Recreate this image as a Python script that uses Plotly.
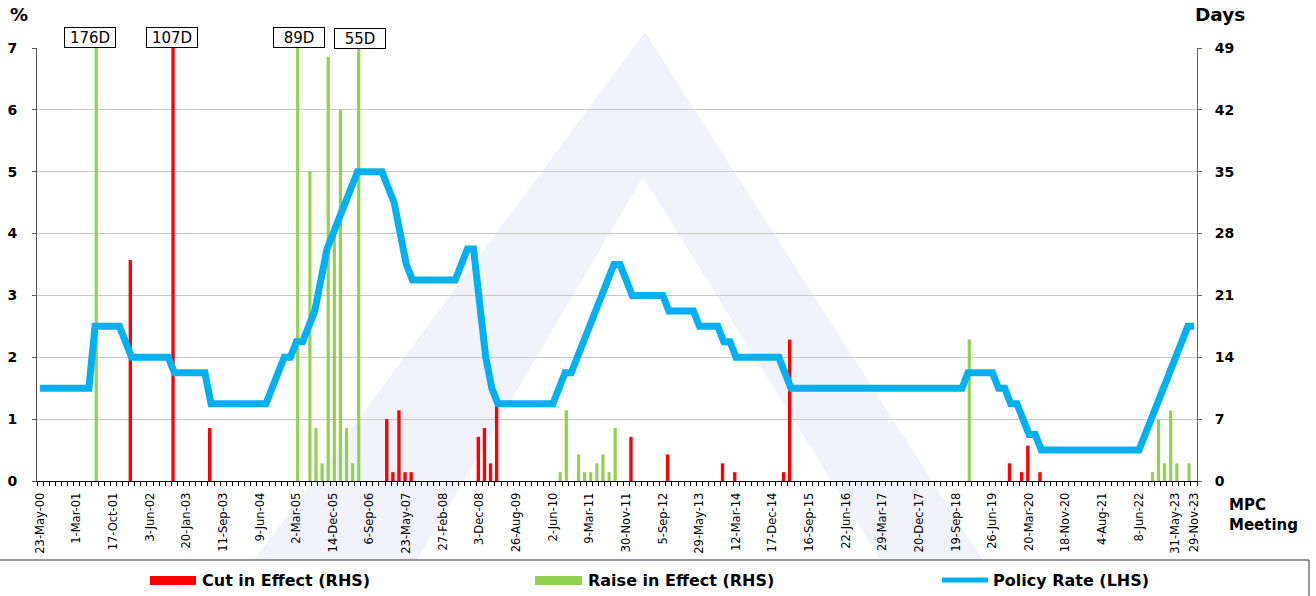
import plotly.graph_objects as go

# ---------------- data ----------------
meeting_idx = list(range(190))   # MPC meetings, 23-May-00 ... 29-Nov-23

policy_rate = [
    1.5, 1.5, 1.5, 1.5, 1.5, 1.5, 1.5, 1.5, 1.5,            # 0-8
    2.5, 2.5, 2.5, 2.5, 2.5,                                # 9-13
    2.25,                                                   # 14
    2.0, 2.0, 2.0, 2.0, 2.0, 2.0, 2.0,                      # 15-21
    1.75, 1.75, 1.75, 1.75, 1.75, 1.75,                     # 22-27
    1.25, 1.25, 1.25, 1.25, 1.25, 1.25, 1.25, 1.25, 1.25, 1.25,  # 28-37
    1.5, 1.75, 2.0, 2.0, 2.25, 2.25,                        # 38-43
    2.5, 2.75, 3.25, 3.75, 4.0, 4.25, 4.5, 4.75,            # 44-51
    5.0, 5.0, 5.0, 5.0, 5.0,                                # 52-56
    4.75, 4.5, 4.0, 3.5,                                    # 57-60
    3.25, 3.25, 3.25, 3.25, 3.25, 3.25, 3.25, 3.25,         # 61-68
    3.5, 3.75, 3.75,                                        # 69-71
    2.75, 2.0, 1.5,                                         # 72-74
    1.25, 1.25, 1.25, 1.25, 1.25, 1.25, 1.25, 1.25, 1.25, 1.25,  # 75-84
    1.5, 1.75, 1.75, 2.0, 2.25, 2.5, 2.75, 3.0, 3.25,       # 85-93
    3.5, 3.5, 3.25,                                         # 94-96
    3.0, 3.0, 3.0, 3.0, 3.0, 3.0,                           # 97-102
    2.75, 2.75, 2.75, 2.75, 2.75,                           # 103-107
    2.5, 2.5, 2.5, 2.5,                                     # 108-111
    2.25, 2.25,                                             # 112-113
    2.0, 2.0, 2.0, 2.0, 2.0, 2.0, 2.0, 2.0,                 # 114-121
    1.75,                                                   # 122
    1.5, 1.5, 1.5, 1.5, 1.5, 1.5, 1.5, 1.5, 1.5, 1.5,       # 123-132
    1.5, 1.5, 1.5, 1.5, 1.5, 1.5, 1.5, 1.5, 1.5, 1.5,       # 133-142
    1.5, 1.5, 1.5, 1.5, 1.5, 1.5, 1.5, 1.5, 1.5,            # 143-151
    1.75, 1.75, 1.75, 1.75, 1.75,                           # 152-156
    1.5, 1.5, 1.25, 1.25, 1.0, 0.75, 0.75,                  # 157-163
    0.5, 0.5, 0.5, 0.5, 0.5, 0.5, 0.5, 0.5, 0.5,            # 164-172
    0.5, 0.5, 0.5, 0.5, 0.5, 0.5, 0.5, 0.5,                 # 173-180
    0.75, 1.0, 1.25, 1.5, 1.75, 2.0, 2.25, 2.5, 2.5,        # 181-189
]

cut_idx = [15, 22, 28, 57, 58, 59, 60, 61, 72, 73, 74, 75,
           97, 103, 112, 114, 122, 123, 159, 161, 162, 164]
cut_days = [25, 107, 6, 7, 1, 8, 1, 1, 5, 6, 2, 9,
            5, 3, 2, 1, 1, 16, 2, 1, 4, 1]

raise_idx = [9, 42, 44, 45, 46, 47, 48, 49, 50, 51, 52,
             85, 86, 88, 89, 90, 91, 92, 93, 94, 152,
             182, 183, 184, 185, 186, 188]
raise_days = [176, 89, 35, 6, 2, 48, 28, 42, 6, 2, 55,
              1, 8, 3, 1, 1, 2, 3, 1, 6, 16,
              1, 7, 2, 8, 2, 2]

tick_idx = list(range(0, 181, 6)) + [186, 189]
tick_text = ["23-May-00", "1-Mar-01", "17-Oct-01", "3-Jun-02", "20-Jan-03",
             "11-Sep-03", "9-Jun-04", "2-Mar-05", "14-Dec-05", "6-Sep-06",
             "23-May-07", "27-Feb-08", "3-Dec-08", "26-Aug-09", "2-Jun-10",
             "9-Mar-11", "30-Nov-11", "5-Sep-12", "29-May-13", "12-Mar-14",
             "17-Dec-14", "16-Sep-15", "22-Jun-16", "29-Mar-17", "20-Dec-17",
             "19-Sep-18", "26-Jun-19", "20-Mar-20", "18-Nov-20", "4-Aug-21",
             "8-Jun-22", "31-May-23", "29-Nov-23"]

days_max = 49
rate_max = 7

# ---------------- style / geometry ----------------
W, H = 1316, 596
L, R, T, B = 37, 1197, 48, 481          # plot area in pixels
FONT = "DejaVu Sans"
RED, GREEN, BLUE = "#FF0000", "#92D050", "#00B0F0"
CUT_W, CUT_OFF = 0.55, -0.49
RAISE_W, RAISE_OFF = 0.52, -0.06


def px(x):
    return (x - L) / (R - L)


def py(y):
    return (B - y) / (B - T)


fig = go.Figure()
fig.add_trace(go.Bar(x=cut_idx, y=cut_days, yaxis="y", width=CUT_W, offset=CUT_OFF,
                     marker=dict(color=RED, line=dict(width=0)),
                     name="Cut in Effect (RHS)", showlegend=False))
fig.add_trace(go.Bar(x=raise_idx, y=raise_days, yaxis="y", width=RAISE_W, offset=RAISE_OFF,
                     marker=dict(color=GREEN, line=dict(width=0)),
                     name="Raise in Effect (RHS)", showlegend=False))
fig.add_trace(go.Scatter(x=meeting_idx, y=policy_rate, yaxis="y2", mode="lines",
                         line=dict(color=BLUE, width=7),
                         name="Policy Rate (LHS)", showlegend=False))

shapes = []
# faint watermark (triangle logo)
WM = "#F1F2FA"
shapes.append(dict(type="path", xref="paper", yref="paper", layer="below",
                   path=f"M {px(645)},{py(32)} L {px(645 - 0.74 * 528)},{py(560)} "
                        f"L {px(645 + 0.64 * 528)},{py(560)} Z",
                   fillcolor=WM, line=dict(width=0)))
shapes.append(dict(type="path", xref="paper", yref="paper", layer="below",
                   path=f"M {px(643)},{py(177)} L {px(643 - 0.59 * 383)},{py(560)} "
                        f"L {px(643 + 0.62 * 383)},{py(560)} Z",
                   fillcolor="white", line=dict(width=0)))
# legend box
shapes.append(dict(type="rect", xref="paper", yref="paper", layer="below",
                   x0=px(-2), x1=px(1309), y0=py(560), y1=py(605),
                   fillcolor="white", line=dict(color="#333333", width=1)))
# legend swatches
shapes.append(dict(type="rect", xref="paper", yref="paper",
                   x0=px(150), x1=px(196), y0=py(576), y1=py(585),
                   fillcolor=RED, line=dict(width=0)))
shapes.append(dict(type="rect", xref="paper", yref="paper",
                   x0=px(535), x1=px(582), y0=py(576), y1=py(585),
                   fillcolor=GREEN, line=dict(width=0)))
shapes.append(dict(type="line", xref="paper", yref="paper",
                   x0=px(942), x1=px(988), y0=py(580), y1=py(580),
                   line=dict(color=BLUE, width=5)))

ann = []
ann.append(dict(text="%", xref="paper", yref="paper", x=px(19), y=py(14),
                xanchor="center", yanchor="middle", showarrow=False,
                font=dict(family=FONT, size=18, color="black", weight="bold")))
ann.append(dict(text="Days", xref="paper", yref="paper", x=px(1220), y=py(14),
                xanchor="center", yanchor="middle", showarrow=False,
                font=dict(family=FONT, size=18.5, color="black", weight="bold")))
ann.append(dict(text="MPC<br>Meeting", xref="paper", yref="paper", x=px(1227), y=py(515),
                xanchor="left", yanchor="middle", align="left", showarrow=False,
                font=dict(family=FONT, size=15, color="black", weight="bold")))
for txt, x0 in [("Cut in Effect (RHS)", 200), ("Raise in Effect (RHS)", 586),
                ("Policy Rate (LHS)", 991)]:
    ann.append(dict(text=txt, xref="paper", yref="paper", x=px(x0), y=py(580),
                    xanchor="left", yanchor="middle", showarrow=False,
                    font=dict(family=FONT, size=16, color="black", weight="bold")))

# labels for bars clipped at the top of the day axis
label_shift = {9: -6, 22: -1.5, 42: 1, 52: 1}
clipped = [(i, d, CUT_OFF + CUT_W / 2) for i, d in zip(cut_idx, cut_days) if d > days_max] + \
          [(i, d, RAISE_OFF + RAISE_W / 2) for i, d in zip(raise_idx, raise_days) if d > days_max]
for i, d, off in clipped:
    ann.append(dict(text=f"{d}D", x=i + off, y=days_max, xref="x", yref="y",
                    xanchor="center", yanchor="bottom", showarrow=False,
                    xshift=label_shift.get(i, 0), yshift=-1 if i == 52 else 0,
                    width=48, height=17, borderpad=1, borderwidth=1,
                    bordercolor="black", bgcolor="white",
                    font=dict(family=FONT, size=15, color="black")))

fig.update_layout(
    width=W, height=H, autosize=False,
    margin=dict(l=L, r=W - R, t=T, b=H - B, pad=0, autoexpand=False),
    paper_bgcolor="white", plot_bgcolor="rgba(0,0,0,0)",
    barmode="overlay", showlegend=False,
    shapes=shapes, annotations=ann,
    xaxis=dict(range=[-0.5, len(meeting_idx) - 0.5], tickmode="array",
               tickvals=tick_idx, ticktext=tick_text, tickangle=-90, automargin=False,
               tickfont=dict(family=FONT, size=11.5, color="black"),
               ticks="", ticklabelstandoff=6,
               showline=True, linecolor="black", linewidth=1,
               showgrid=False, zeroline=False,
               minor=dict(tickmode="linear", tick0=-0.5, dtick=1, ticks="outside",
                          ticklen=4, tickcolor="black", tickwidth=1, showgrid=False)),
    yaxis=dict(side="right", range=[0, days_max], tickmode="array", automargin=False,
               tickvals=list(range(0, days_max + 1, 7)),
               tickfont=dict(family=FONT, size=14, color="black", weight="bold"),
               ticks="outside", ticklen=4, tickcolor="#666666", ticklabelstandoff=10,
               showline=True, linecolor="#666666", linewidth=1,
               showgrid=True, gridcolor="#C8C8C8", gridwidth=1, zeroline=False),
    yaxis2=dict(overlaying="y", side="left", range=[0, rate_max], tickmode="array",
                automargin=False, tickvals=list(range(0, rate_max + 1)),
                tickfont=dict(family=FONT, size=14, color="black", weight="bold"),
                ticks="outside", ticklen=4, tickcolor="#555555", ticklabelstandoff=12,
                showline=True, linecolor="#555555", linewidth=1,
                showgrid=False, zeroline=False),
)

fig.write_html("out.html", config={"displayModeBar": False},
               post_script="document.body.style.margin='0';document.body.style.overflow='hidden';")
